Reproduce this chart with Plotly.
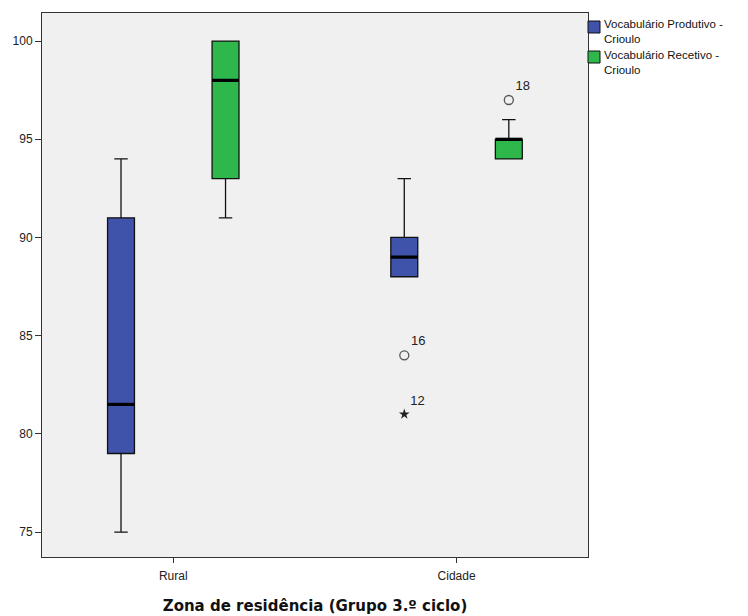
import plotly.graph_objects as go

categories = ["Rural", "Cidade"]
series_names = ["Vocabulário Produtivo -<br>Crioulo", "Vocabulário Recetivo -<br>Crioulo"]
colors = ["#3E53A9", "#2EB84B"]

# box statistics per series, per category (Rural, Cidade)
prod_lower = [75, 88]
prod_q1 = [79, 88]
prod_median = [81.5, 89]
prod_q3 = [91, 90]
prod_upper = [94, 93]

rec_lower = [91, 94]
rec_q1 = [93, 94]
rec_median = [98, 95]
rec_q3 = [100, 95]
rec_upper = [100, 96]

# outliers: (category index, series index, value, label, symbol)
out_cat = [1, 1, 1]
out_series = [0, 0, 1]
out_values = [84, 81, 97]
out_labels = ["16", "12", "18"]
out_kind = ["circle", "star", "circle"]

# page body has an 8px default margin; compensate
PAD = 8
W, H = 748 - PAD, 616 - PAD
ML, MR, MT, MB = 42 - PAD, 160, 13 - PAD, 59
offset = 0.1845
box_w = 0.095
stats = [
    (prod_lower, prod_q1, prod_median, prod_q3, prod_upper),
    (rec_lower, rec_q1, rec_median, rec_q3, rec_upper),
]
fig = go.Figure()
for s, (lo, q1, med, q3, up) in enumerate(stats):
    sign = -1 if s == 0 else 1
    xs = [i + sign * offset for i in range(len(categories))]
    fig.add_trace(go.Box(
        x=xs, q1=q1, median=med, q3=q3, lowerfence=lo, upperfence=up,
        width=box_w, fillcolor=colors[s], line=dict(color="#111111", width=1.3),
        whiskerwidth=0.5, boxpoints=False, showlegend=False, hoverinfo="skip",
    ))
    mx, my = [], []
    for x, m in zip(xs, med):
        mx += [x - box_w / 2, x + box_w / 2, None]
        my += [m, m, None]
    fig.add_trace(go.Scatter(x=mx, y=my, mode="lines", line=dict(color="black", width=3.2),
                             showlegend=False, hoverinfo="skip"))

for c, s, v, lab, kind in zip(out_cat, out_series, out_values, out_labels, out_kind):
    sign = -1 if s == 0 else 1
    x = c + sign * offset
    if kind == "circle":
        marker = dict(symbol="circle-open", size=9, color="#555555", line=dict(width=1.3))
    else:
        marker = dict(symbol="star", size=8, color="#222222", line=dict(width=0))
    fig.add_trace(go.Scatter(x=[x], y=[v], mode="markers+text", marker=marker,
                             text=[lab], textposition="top right",
                             textfont=dict(size=13, color="#222222", family="Liberation Sans"),
                             showlegend=False, hoverinfo="skip"))

# manual legend (paper coordinates from reference pixel positions)
pw, ph = W - ML - MR, H - MT - MB
def px_x(p):
    return (p - PAD - ML) / pw
def px_y(p):
    return 1 - (p - PAD - MT) / ph

shapes, annotations = [], []
sq_top = [21, 51]
text_mid = [32, 62]
for s in range(2):
    shapes.append(dict(type="rect", xref="paper", yref="paper",
                       x0=px_x(588), x1=px_x(600), y0=px_y(sq_top[s] + 12), y1=px_y(sq_top[s]),
                       fillcolor=colors[s], line=dict(color="#111111", width=1)))
    annotations.append(dict(xref="paper", yref="paper", x=px_x(602), y=px_y(text_mid[s]),
                            xanchor="left", yanchor="middle", align="left", text=series_names[s],
                            showarrow=False,
                            font=dict(size=11.5, color="#111111", family="Liberation Sans")))

fig.update_layout(
    width=W, height=H,
    margin=dict(l=ML, r=MR, t=MT, b=MB, autoexpand=False),
    paper_bgcolor="white", plot_bgcolor="#F0F0F0",
    font=dict(family="Liberation Sans", size=12, color="#222222"),
    showlegend=False, shapes=shapes, annotations=annotations,
)
fig.update_xaxes(
    range=[-0.4634, 1.464], tickvals=list(range(len(categories))), ticktext=categories,
    showgrid=False, zeroline=False, showline=True, mirror=True, linecolor="#333333", linewidth=1,
    ticks="outside", ticklen=5, tickcolor="#333333", automargin=False, ticklabelstandoff=3,
    title=dict(text="<b>Zona de residência (Grupo 3.º ciclo)</b>",
               font=dict(size=15, color="#111111", family="DejaVu Sans"), standoff=18),
)
fig.update_yaxes(
    range=[73.73, 101.43], tickvals=[75, 80, 85, 90, 95, 100],
    showgrid=False, zeroline=False, showline=True, mirror=True, linecolor="#333333", linewidth=1,
    ticks="outside", ticklen=6, tickcolor="#333333", automargin=False,
)
fig.write_html("out.html")
